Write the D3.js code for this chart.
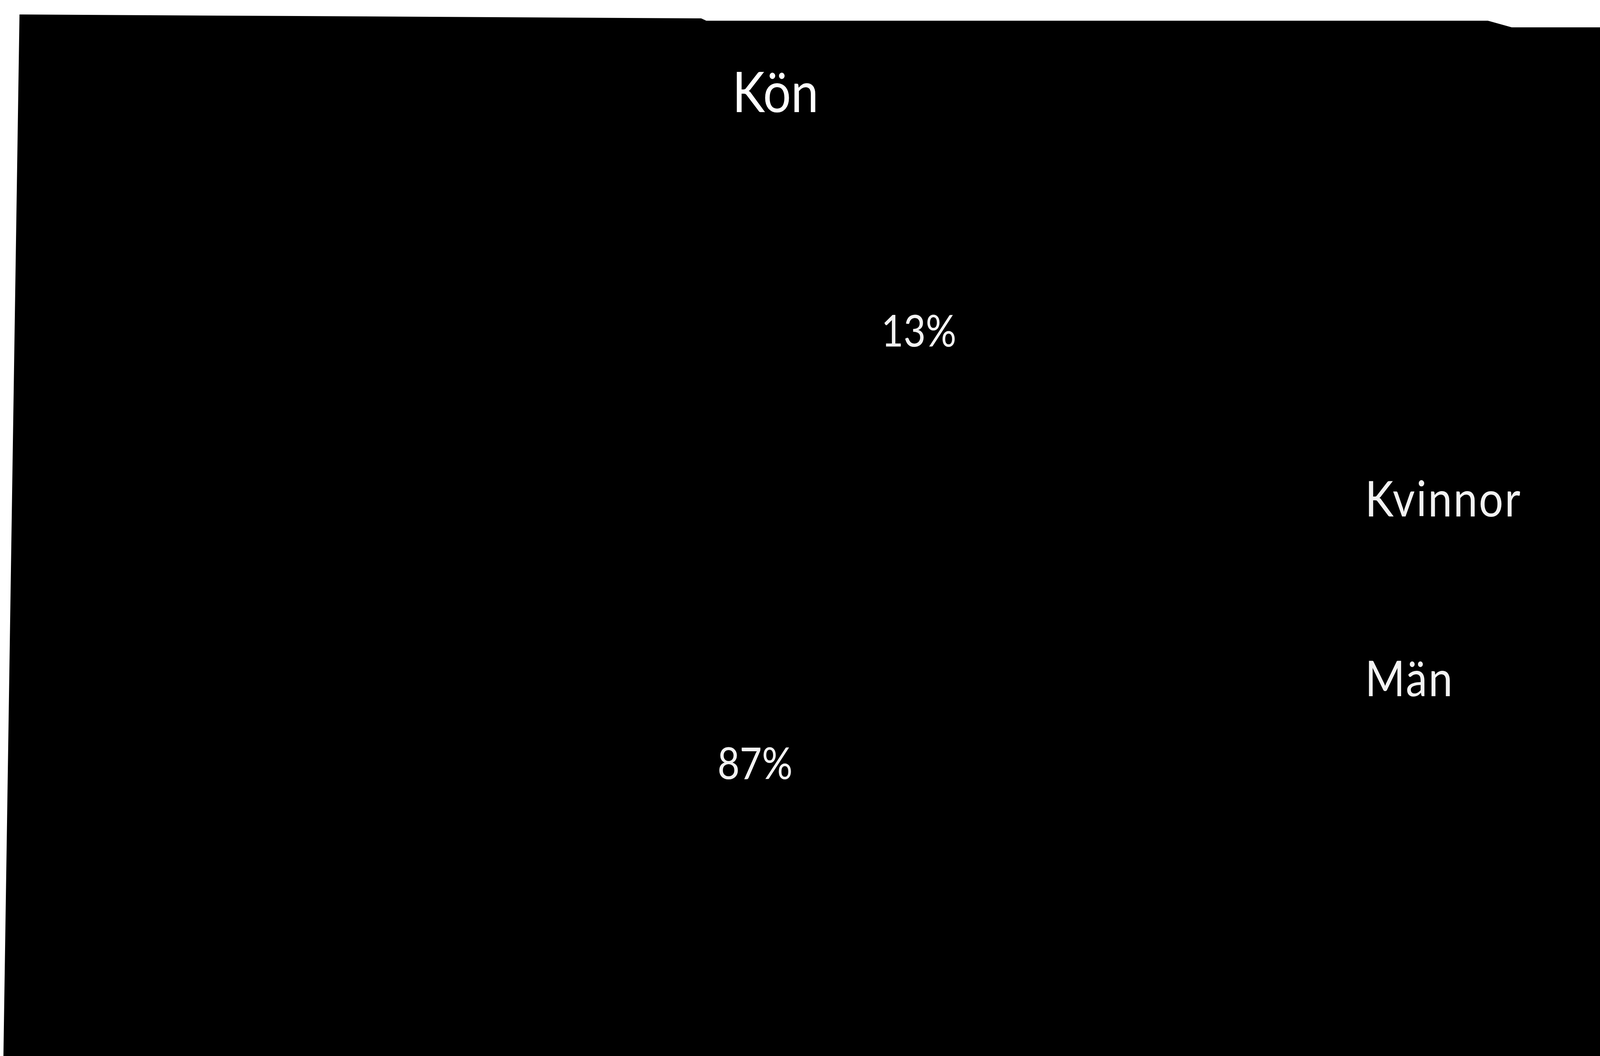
<!DOCTYPE html>
<html>
    <head>
        <meta charset="utf-8">
        <title>Kön</title>
        <style>
            html, body { margin: 0; padding: 0; background: #ffffff; overflow: hidden; }
            svg { display: block; width: 100vw; height: 100vh; }
        </style>
    </head>
    <body>
        <svg id="lienzo"></svg>

        <script src="https://cdn.jsdelivr.net/npm/d3@7/dist/d3.min.js"></script>
        <script>
            // data
            const kategorier = ["Kvinnor", "Män"];
            const andelar = [13, 87]; // procent
            const titel = "Kön";

            const width = 4678;
            const height = 2703;

            // drawn in reference pixels, stretched to whatever the window is
            const svg = d3.select("#lienzo")
                .attr("viewBox", "0 0 " + width + " " + height)
                .attr("preserveAspectRatio", "none");

            // the scanned chart area: black, with a slightly crooked white margin top and left
            const kant = [[57, 37], [2050, 47], [2065, 53], [4350, 53], [4420, 70], [width, 70],
                          [width, height], [10, height]];
            svg.append("path")
                .attr("d", d3.line()(kant) + "Z")
                .attr("fill", "#000000");

            const font = "Lato, 'Open Sans', sans-serif";

            // title
            svg.append("text")
                .attr("x", 2267)
                .attr("y", 287)
                .attr("text-anchor", "middle")
                .attr("font-family", font)
                .attr("font-size", 144)
                .attr("fill", "#ffffff")
                .text(titel);

            // pie (black slices on black background, only the labels show)
            const cx = 2447, cy = 1400;
            const radius = 900;
            const labelRadius = 603;

            const data = kategorier.map((k, i) => ({ namn: k, varde: andelar[i] }));

            const pie = d3.pie().sort(null).value(d => d.varde);
            const arc = d3.arc().innerRadius(0).outerRadius(radius);
            const labelArc = d3.arc().innerRadius(labelRadius).outerRadius(labelRadius);

            const color = d3.scaleOrdinal()
                .domain(kategorier)
                .range(["#000000", "#000000"]);

            const g = svg.append("g")
                .attr("transform", "translate(" + cx + "," + cy + ")");

            g.selectAll("path")
                .data(pie(data))
                .enter()
                .append("path")
                .attr("d", arc)
                .attr("fill", d => color(d.data.namn))
                .attr("stroke", "#000000");

            g.selectAll("text")
                .data(pie(data))
                .enter()
                .append("text")
                .attr("transform", d => "translate(" + labelArc.centroid(d) + ")")
                .attr("dy", "0.36em")
                .attr("text-anchor", "middle")
                .attr("font-family", font)
                .attr("font-size", 112)
                .attr("fill", "#f2f2f2")
                .text(d => d.data.varde + "%");

            // legend
            const legendY = d3.scalePoint()
                .domain(kategorier)
                .range([1322, 1782]);

            const legend = svg.append("g");

            legend.selectAll("rect")
                .data(kategorier)
                .enter()
                .append("rect")
                .attr("x", 3880)
                .attr("y", d => legendY(d) - 80)
                .attr("width", 75)
                .attr("height", 75)
                .attr("fill", d => color(d));

            legend.selectAll("text")
                .data(kategorier)
                .enter()
                .append("text")
                .attr("x", 3991)
                .attr("y", d => legendY(d))
                .attr("font-family", font)
                .attr("font-size", 126)
                .attr("letter-spacing", 4)
                .attr("fill", "#f2f2f2")
                .text(d => d);
        </script>
    </body>
</html>
